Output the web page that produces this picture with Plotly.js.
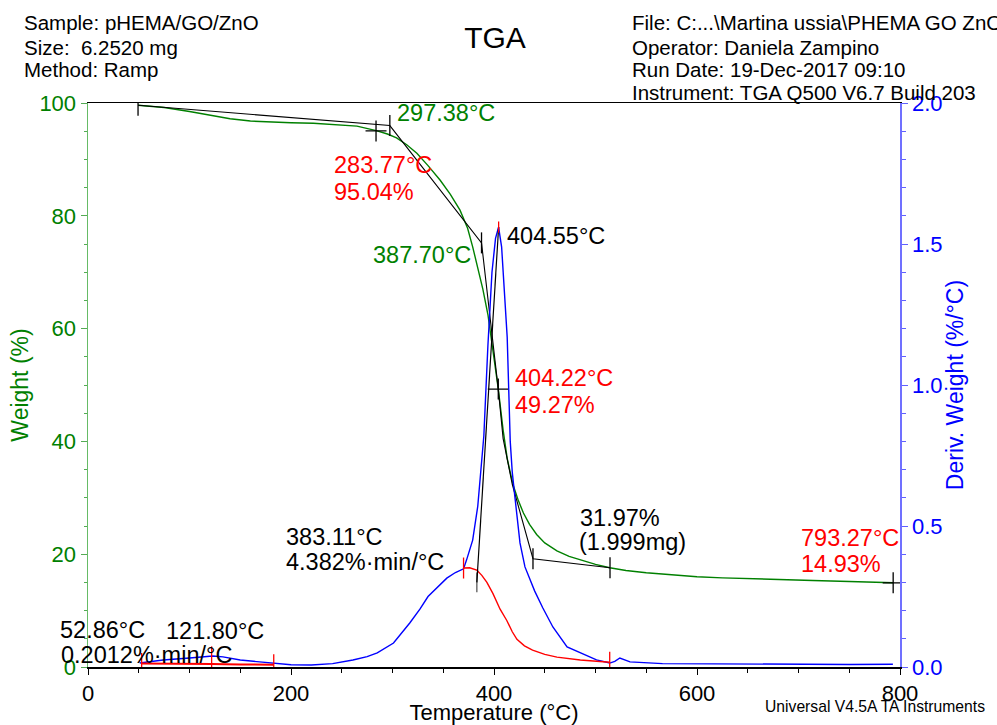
<!DOCTYPE html>
<html>
<head>
<meta charset="utf-8">
<script src="https://cdn.plot.ly/plotly-3.0.1.min.js"></script>
<style>
  html, body { margin: 0; padding: 0; background: #fff; }
  #chart { width: 997px; height: 725px; }
</style>
</head>
<body>
<div id="chart"></div>
<script>
// TGA run: weight loss (left axis) and derivative weight (right axis) vs temperature

// Weight curve (%)
const tempW = [49.3, 75, 100, 120, 140, 160, 180, 200, 222, 245, 265, 284, 295, 304, 314, 324, 335, 347, 357, 366.5, 374, 379, 384, 389, 394, 399, 404.2, 409, 413, 416, 419, 424, 429, 435, 442, 450, 462, 474, 485, 500, 514, 530, 550, 575, 600, 625, 650, 680, 714, 750, 793.3];
const weight = [99.6, 99.2, 98.5, 97.8, 97.2, 96.8, 96.6, 96.5, 96.4, 96.2, 95.9, 95.1, 94.5, 93.8, 92.6, 91.1, 88.9, 86.3, 83.8, 81.0, 77.8, 74.5, 71.0, 67.0, 62.5, 56.0, 49.3, 42.0, 37.0, 34.5, 32.2, 29.5, 27.3, 25.3, 23.5, 22.0, 20.6, 19.6, 19.0, 18.2, 17.6, 17.1, 16.7, 16.3, 16.0, 15.8, 15.7, 15.5, 15.35, 15.15, 14.93];

// Derivative weight curve (%/°C)
const tempD = [51, 74, 100, 123, 133, 150, 169, 182, 200, 220, 241, 261, 275, 285, 301, 317, 327, 335, 344, 353.5, 362, 370, 373, 379, 384, 388, 390, 394, 398, 401.5, 404.5, 407.5, 410, 413, 416, 418, 420.7, 425.6, 430.5, 435.5, 440, 448, 458, 472, 485, 501, 514, 519, 524, 534, 566, 600, 649, 700, 750, 793];
const deriv = [0.014, 0.025, 0.032, 0.039, 0.036, 0.025, 0.018, 0.014, 0.008, 0.007, 0.012, 0.025, 0.037, 0.05, 0.085, 0.156, 0.205, 0.25, 0.28, 0.315, 0.335, 0.348, 0.38, 0.45, 0.57, 0.72, 0.82, 1.14, 1.40, 1.52, 1.56, 1.49, 1.36, 1.17, 0.80, 0.69, 0.60, 0.44, 0.355, 0.31, 0.27, 0.21, 0.142, 0.071, 0.05, 0.025, 0.014, 0.02, 0.032, 0.018, 0.012, 0.011, 0.01, 0.009, 0.009, 0.01];

// Peak integration baselines (red, %/°C)
const tempRedLow = [52.86, 80, 121.8, 150, 183];
const redLow = [0.012, 0.012, 0.011, 0.009, 0.008];
const tempRedPeak = [370, 376, 383, 388, 393, 399, 406, 412.6, 418, 422.6, 430, 438, 450, 462, 485, 500, 514];
const redPeak = [0.351, 0.352, 0.344, 0.325, 0.30, 0.26, 0.205, 0.165, 0.125, 0.098, 0.075, 0.06, 0.045, 0.035, 0.025, 0.02, 0.017];
const redTickT = [52.86, 121.8, 183, 370, 514];
const redTickD = [0.012, 0.036, 0.008, 0.351, 0.017];
const peakTopT = [404.55];
const peakTopD = [1.56];

// Step-transition construction lines on the weight curve (%)
const stepLineT = [49.3, 297.38, 387.7, 404.22, 409, 418, 438.4, 514.3];
const stepLineW = [99.6, 96.0, 75.2, 49.27, 40.5, 32.4, 19.2, 17.6];
const stepTickT = [49.3, 297.38, 387.7, 438.4, 514.3];
const stepTickW = [99.6, 96.0, 75.2, 19.2, 17.6];
const crossT = [283.77, 404.22, 793.27];
const crossW = [95.04, 49.27, 14.93];

// Peak tangent on the derivative curve (%/°C)
const peakLineT = [383.11, 404.55];
const peakLineD = [0.30, 1.56];

// Axis ticks
const xTicks = [0, 200, 400, 600, 800];
const yTicks = [0, 20, 40, 60, 80, 100];
const y2Ticks = [0.0, 0.5, 1.0, 1.5, 2.0];

const FONT = 'Liberation Sans, Arial, Helvetica, sans-serif';
const GREEN = '#008000', BLUE = '#0000ff', RED = '#ff0000';

const traces = [
  { x: tempD, y: deriv, yaxis: 'y2', mode: 'lines', line: { color: BLUE, width: 1.4 } },
  { x: tempRedLow, y: redLow, yaxis: 'y2', mode: 'lines', line: { color: RED, width: 2 } },
  { x: tempRedPeak, y: redPeak, yaxis: 'y2', mode: 'lines', line: { color: RED, width: 1.4 } },
  { x: redTickT, y: redTickD, yaxis: 'y2', mode: 'markers',
    marker: { symbol: 'line-ns', size: 15, line: { color: RED, width: 1.3 } } },
  { x: peakLineT, y: peakLineD, yaxis: 'y2', mode: 'lines+markers', line: { color: '#000', width: 1.2 },
    marker: { symbol: 'line-ns', size: [14, 0], line: { color: '#000', width: 1.2 } } },
  { x: peakTopT, y: peakTopD, yaxis: 'y2', mode: 'markers',
    marker: { symbol: 'line-ns', size: 8, line: { color: RED, width: 1.3 } } },
  { x: tempW, y: weight, mode: 'lines', line: { color: GREEN, width: 1.4 } },
  { x: stepLineT, y: stepLineW, mode: 'lines', line: { color: '#000', width: 1.1 } },
  { x: stepTickT, y: stepTickW, mode: 'markers',
    marker: { symbol: 'line-ns', size: 15, line: { color: '#000', width: 1.3 } } },
  { x: crossT, y: crossW, mode: 'markers',
    marker: { symbol: 'cross-thin', size: 15, line: { color: '#000', width: 1.3 } } }
];

// plot-area pixel helpers for text placement
const L = 88, R = 900, T = 103, B = 667;
const px = x => (x - L) / (R - L);
const py = y => (B - y) / (B - T);

function label(text, x, y, color, size, anchor) {
  return { text: text, x: px(x), y: py(y), xref: 'paper', yref: 'paper',
           xanchor: anchor || 'left', yanchor: 'middle', showarrow: false,
           font: { family: FONT, size: size, color: color } };
}

const A = 23.5;
const annotations = [
  label('Sample: pHEMA/GO/ZnO', 22, 22.5, '#000', 20.5),
  label('Size:\u00a0\u00a06.2520 mg', 22, 47, '#000', 20.5),
  label('Method: Ramp', 22, 70, '#000', 20.5),
  label('File: C:...\\Martina ussia\\PHEMA GO ZnO', 630, 22.5, '#000', 20.5),
  label('Operator: Daniela Zampino', 630, 47, '#000', 20.5),
  label('Run Date: 19-Dec-2017 09:10', 630, 70, '#000', 20.5),
  label('Instrument: TGA Q500 V6.7 Build 203', 630, 92.5, '#000', 20.5),
  label('297.38°C', 395, 113.5, GREEN, A),
  label('283.77°C', 332, 165, RED, A),
  label('95.04%', 332, 191.5, RED, A),
  label('387.70°C', 371, 255, GREEN, A),
  label('404.55°C', 505, 236, '#000', A),
  label('404.22°C', 513, 378, RED, A),
  label('49.27%', 513, 405, RED, A),
  label('31.97%', 578, 518, '#000', A),
  label('(1.999mg)', 577, 542, '#000', A),
  label('793.27°C', 799, 538, RED, A),
  label('14.93%', 799, 563.5, RED, A),
  label('383.11°C', 284, 536.5, '#000', A),
  label('4.382%·min/°C', 284, 561.5, '#000', A),
  label('52.86°C', 58, 629.5, '#000', A),
  label('0.2012%·min/°C', 59, 655, '#000', A),
  label('121.80°C', 164, 631, '#000', A),
  label('Universal V4.5A TA Instruments', 763, 706, '#000', 15.7)
];

const layout = {
  width: 997, height: 725,
  margin: { l: L, r: 997 - R, t: T, b: 725 - B, pad: 0 },
  paper_bgcolor: '#fff', plot_bgcolor: '#fff',
  showlegend: false, hovermode: false,
  font: { family: FONT, color: '#000' },
  title: { text: 'TGA', font: { family: FONT, size: 30, color: '#000' },
           x: 495 / 997, xref: 'container', xanchor: 'center',
           y: 1 - 37 / 725, yref: 'container', yanchor: 'middle' },
  xaxis: {
    range: [0, 800], tickvals: xTicks, ticktext: xTicks.map(String),
    showgrid: false, zeroline: false,
    showline: true, linecolor: '#000', linewidth: 1.5, mirror: true,
    ticks: 'outside', ticklen: 6, tickcolor: '#000', tickwidth: 1,
    minor: { dtick: 50, ticks: 'outside', ticklen: 4, tickcolor: '#000', showgrid: false },
    tickfont: { family: FONT, size: 22, color: '#000' },
    title: { text: 'Temperature (°C)', font: { family: FONT, size: 22, color: '#000' }, standoff: 2 }
  },
  yaxis: {
    range: [0, 100], tickvals: yTicks, ticktext: yTicks.map(String),
    showgrid: false, zeroline: false,
    showline: true, linecolor: '#66bb66', linewidth: 1.5,
    ticks: 'outside', ticklen: 6, tickcolor: '#55aa55', tickwidth: 1,
    minor: { dtick: 5, ticks: 'outside', ticklen: 3, tickcolor: '#55aa55', showgrid: false },
    tickfont: { family: FONT, size: 22, color: GREEN },
    title: { text: 'Weight (%)', font: { family: FONT, size: 23, color: GREEN }, standoff: 4 }
  },
  yaxis2: {
    overlaying: 'y', side: 'right', anchor: 'x',
    range: [0, 2], tickvals: y2Ticks, ticktext: y2Ticks.map(v => v.toFixed(1)),
    showgrid: false, zeroline: false,
    showline: true, linecolor: '#7070ff', linewidth: 1.5,
    ticks: 'outside', ticklen: 6, tickcolor: '#6060ff', tickwidth: 1,
    minor: { dtick: 0.1, ticks: 'outside', ticklen: 4, tickcolor: '#6060ff', showgrid: false },
    tickfont: { family: FONT, size: 22, color: BLUE },
    title: { text: 'Deriv. Weight (%/°C)', font: { family: FONT, size: 23, color: BLUE }, standoff: 0 }
  },
  annotations: annotations
};

Plotly.newPlot('chart', traces, layout, { staticPlot: true, displayModeBar: false });
</script>
</body>
</html>
